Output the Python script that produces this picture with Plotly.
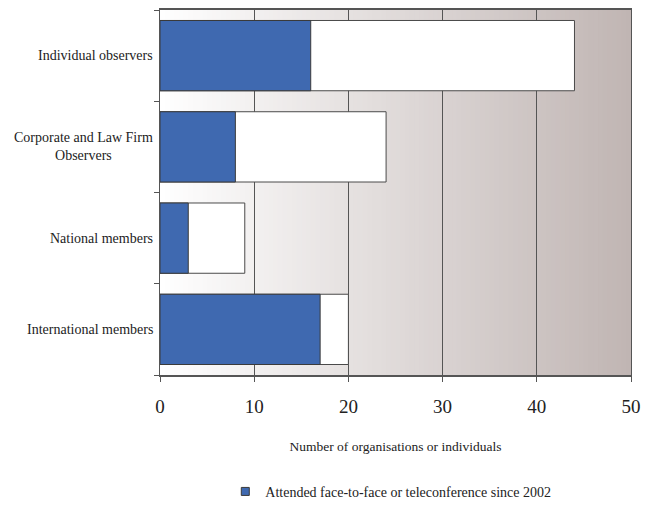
import plotly.graph_objects as go

categories = ["International members", "National members",
              "Corporate and Law Firm<br>Observers", "Individual observers"]
attended = [17, 3, 8, 16]
total = [20, 9, 24, 44]
x_ticks = [0, 10, 20, 30, 40, 50]
legend_label = "Attended face-to-face or teleconference since 2002"

FONT = "Liberation Serif"
GRID = "#555555"
BLUE = "#3F69B0"

fig = go.Figure()
fig.add_trace(go.Bar(y=categories, x=total, orientation="h",
                     marker=dict(color="white", line=dict(color="#4a4a4a", width=1)),
                     width=0.77, showlegend=False, hoverinfo="skip"))
fig.add_trace(go.Bar(y=categories, x=attended, orientation="h",
                     name=legend_label, showlegend=False,
                     marker=dict(color=BLUE, line=dict(color="#3a3a3a", width=1)),
                     width=0.77))
# legend entry with a small square swatch
fig.add_trace(go.Scatter(x=[None], y=[None], mode="markers", name=legend_label,
                         marker=dict(symbol="square", size=8, color=BLUE,
                                     line=dict(color="#3a3a3a", width=1))))

# background gradient (style only)
n = 100
c0 = (255, 255, 255)
c1 = (192, 181, 179)
shapes = []
for i in range(n):
    t = (i + 0.5) / n
    col = tuple(int(round(a + (b - a) * t)) for a, b in zip(c0, c1))
    shapes.append(dict(type="rect", xref="x domain", yref="y domain",
                       x0=i / n, x1=(i + 1) / n + 0.002, y0=0, y1=1,
                       fillcolor="rgb(%d,%d,%d)" % col, line=dict(width=0),
                       layer="below"))

annotations = [dict(text=c, x=0, xref="paper", xanchor="right", xshift=-5,
                    y=c, yref="y", yanchor="middle", showarrow=False,
                    align="center", font=dict(size=14, family=FONT, color="#222"))
               for c in categories]

fig.update_layout(
    barmode="overlay",
    width=647, height=506,
    margin=dict(l=160, r=16, t=10, b=131),
    paper_bgcolor="white", plot_bgcolor="white",
    shapes=shapes,
    annotations=annotations,
    font=dict(family=FONT, color="#222", size=13),
    legend=dict(orientation="h", x=0.49, xanchor="center",
                yref="container", y=0.028, yanchor="middle",
                font=dict(size=14), itemwidth=30),
    xaxis=dict(range=[0, 50], tickvals=x_ticks, showgrid=True, gridcolor=GRID, gridwidth=1,
               showline=True, linecolor=GRID, linewidth=1.5, mirror=True,
               ticks="outside", ticklen=5, tickcolor=GRID, automargin=False,
               tickfont=dict(size=19), zeroline=False, ticklabelstandoff=8,
               title=dict(text="Number of organisations or individuals", font=dict(size=13.5),
                          standoff=26)),
    yaxis=dict(showline=True, linecolor=GRID, linewidth=1, mirror=True,
               ticks="outside", ticklen=5, tickcolor=GRID, tickson="boundaries",
               showgrid=False, showticklabels=False, automargin=False),
)

fig.write_html("out.html", config={"displayModeBar": False},
               post_script="document.body.style.margin='0';document.body.style.padding='0';")
